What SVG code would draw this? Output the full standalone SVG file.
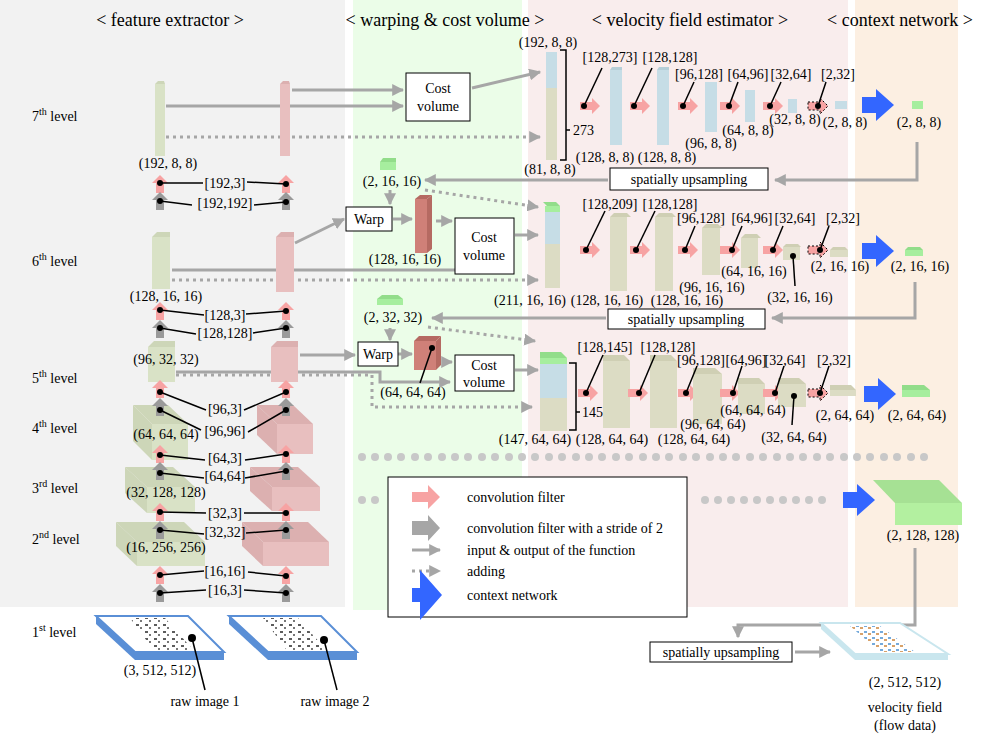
<svg xmlns="http://www.w3.org/2000/svg" width="1006" height="745" viewBox="0 0 1006 745" font-family="'Liberation Serif','DejaVu Serif',serif">
<defs>
<style>
text{font-family:"Liberation Serif","DejaVu Serif","Times New Roman",serif;font-size:14px;fill:#000}
.t{font-size:18px}
.m{text-anchor:middle}
.ln{stroke:#a6a6a6;stroke-width:3;fill:none}
.dt{stroke:#a6a6a6;stroke-width:3;fill:none;stroke-dasharray:3 4}
.ld{stroke:#000;stroke-width:1.5;fill:none}
.box{fill:#fff;stroke:#000;stroke-width:1}
.og{fill:#d9e2c6}.ogt{fill:#cdd6b8}
.pk{fill:#e8bfbf}.pkt{fill:#dcb0b0}
.bl{fill:#c6dde6}.blt{fill:#b5ced8}
.vo{fill:#dcdcc4}.vot{fill:#cfcfb4}
.rd{fill:#cf8078}.rdt{fill:#b56a62}
.gr{fill:#a6ee9e}.grt{fill:#92dd8a}
</style>
<pattern id="spk" width="9" height="7" patternUnits="userSpaceOnUse"><rect x="1" y="1" width="3" height="2" fill="#333"/><rect x="5" y="4" width="2" height="2" fill="#555"/></pattern>
<pattern id="vel" width="8" height="6" patternUnits="userSpaceOnUse"><rect x="0" y="1" width="3" height="2" fill="#3a85cc"/><rect x="4" y="3" width="3" height="2" fill="#c77a2a"/></pattern>
<marker id="ah" viewBox="0 0 10 10" refX="9" refY="5" markerWidth="4" markerHeight="4" orient="auto"><path d="M0,0L10,5L0,10z" fill="#a6a6a6"/></marker>
<path id="pr" d="M0,-4H12V-8L20,0L12,8V4H0Z" fill="#f7a3a3"/>
<path id="pu" d="M-4,8V-2H-8L0,-10L8,-2H4V8Z" fill="#f7a3a3"/>
<path id="gu" d="M-4,8V-2H-8L0,-10L8,-2H4V8Z" fill="#9a9a9a"/>
<path id="ctx" d="M0,-8H14V-16L32,0L14,16V8H0Z" fill="#3366ff"/>
<circle id="d" r="3" fill="#000"/>
</defs>
<rect width="1006" height="745" fill="#fff"/>
<g id="panels">
<rect x="0" y="0" width="345" height="607" fill="#f2f2f2"/>
<rect x="353" y="0" width="169" height="610" fill="#ebfde8"/>
<rect x="528" y="0" width="320" height="607" fill="#f9eded"/>
<rect x="855" y="0" width="103" height="607" fill="#fcefe2"/>
<text class="t m" x="170" y="26">&lt; feature extractor &gt;</text>
<text class="t m" x="445" y="26">&lt; warping &amp; cost volume &gt;</text>
<text class="t m" x="690" y="26">&lt; velocity field estimator &gt;</text>
<text class="t m" x="900" y="26">&lt; context network &gt;</text>
</g>
<g id="levels">
<text x="32" y="121" font-size="15">7<tspan font-size="10" dy="-6">th</tspan><tspan dy="6"> level</tspan></text>
<text x="32" y="266" font-size="15">6<tspan font-size="10" dy="-6">th</tspan><tspan dy="6"> level</tspan></text>
<text x="32" y="383" font-size="15">5<tspan font-size="10" dy="-6">th</tspan><tspan dy="6"> level</tspan></text>
<text x="32" y="433" font-size="15">4<tspan font-size="10" dy="-6">th</tspan><tspan dy="6"> level</tspan></text>
<text x="32" y="493" font-size="15">3<tspan font-size="10" dy="-6">rd</tspan><tspan dy="6"> level</tspan></text>
<text x="32" y="544" font-size="15">2<tspan font-size="10" dy="-6">nd</tspan><tspan dy="6"> level</tspan></text>
<text x="32" y="637" font-size="15">1<tspan font-size="10" dy="-6">st</tspan><tspan dy="6"> level</tspan></text>
</g>
<g id="connectors">
<line class="ln" x1="292" y1="90" x2="403" y2="90" marker-end="url(#ah)"/>
<line class="ln" x1="166" y1="106" x2="403" y2="106" marker-end="url(#ah)"/>
<line class="dt" x1="166" y1="137" x2="540" y2="137" marker-end="url(#ah)"/>
<line class="ln" x1="472" y1="88" x2="540" y2="72" marker-end="url(#ah)"/>
<polyline class="ln" points="917,142 917,180 775,180" marker-end="url(#ah)"/>
<line class="ln" x1="608" y1="180" x2="425" y2="180" marker-end="url(#ah)"/>
<line class="ln" x1="390" y1="190" x2="390" y2="204" marker-end="url(#ah)"/>
<line class="ln" x1="295" y1="243" x2="344" y2="219" marker-end="url(#ah)"/>
<line class="ln" x1="393" y1="219" x2="412" y2="219" marker-end="url(#ah)"/>
<line class="ln" x1="436" y1="221" x2="452" y2="221" marker-end="url(#ah)"/>
<line class="ln" x1="172" y1="270" x2="455" y2="270"/>
<line class="dt" x1="172" y1="280" x2="538" y2="280" marker-end="url(#ah)"/>
<line class="dt" x1="425" y1="190" x2="538" y2="207" marker-end="url(#ah)"/>
<line class="ln" x1="515" y1="235" x2="538" y2="235" marker-end="url(#ah)"/>
<polyline class="ln" points="915,282 915,318 772,318" marker-end="url(#ah)"/>
<line class="ln" x1="606" y1="318" x2="432" y2="318" marker-end="url(#ah)"/>
<line class="ln" x1="390" y1="328" x2="390" y2="340" marker-end="url(#ah)"/>
<line class="ln" x1="300" y1="355" x2="355" y2="355" marker-end="url(#ah)"/>
<line class="ln" x1="398" y1="354" x2="412" y2="354" marker-end="url(#ah)"/>
<line class="ln" x1="442" y1="362" x2="452" y2="362" marker-end="url(#ah)"/>
<polyline class="ln" points="176,372 380,372 380,382 450,382" marker-end="url(#ah)"/>
<polyline class="dt" points="176,375 372,375 372,407 532,407" marker-end="url(#ah)"/>
<line class="dt" x1="428" y1="327" x2="535" y2="341" marker-end="url(#ah)"/>
<line class="ln" x1="515" y1="370" x2="538" y2="370" marker-end="url(#ah)"/>
<polyline class="ln" points="915,548 915,625 738,625 738,637" marker-end="url(#ah)"/>
<line class="ln" x1="795" y1="652" x2="830" y2="652" marker-end="url(#ah)"/>
<g fill="#c8c8c8">
<circle cx="362" cy="457" r="4"/><circle cx="375" cy="457" r="4"/><circle cx="388" cy="457" r="4"/><circle cx="401" cy="457" r="4"/><circle cx="415" cy="457" r="4"/><circle cx="428" cy="457" r="4"/><circle cx="442" cy="457" r="4"/><circle cx="455" cy="457" r="4"/><circle cx="468" cy="457" r="4"/><circle cx="482" cy="457" r="4"/><circle cx="495" cy="457" r="4"/><circle cx="509" cy="457" r="4"/><circle cx="522" cy="457" r="4"/><circle cx="535" cy="457" r="4"/><circle cx="549" cy="457" r="4"/><circle cx="562" cy="457" r="4"/><circle cx="576" cy="457" r="4"/><circle cx="589" cy="457" r="4"/><circle cx="602" cy="457" r="4"/><circle cx="616" cy="457" r="4"/><circle cx="629" cy="457" r="4"/><circle cx="643" cy="457" r="4"/><circle cx="656" cy="457" r="4"/><circle cx="669" cy="457" r="4"/><circle cx="683" cy="457" r="4"/><circle cx="696" cy="457" r="4"/><circle cx="710" cy="457" r="4"/><circle cx="723" cy="457" r="4"/><circle cx="736" cy="457" r="4"/><circle cx="750" cy="457" r="4"/><circle cx="763" cy="457" r="4"/><circle cx="777" cy="457" r="4"/><circle cx="790" cy="457" r="4"/><circle cx="803" cy="457" r="4"/><circle cx="817" cy="457" r="4"/><circle cx="830" cy="457" r="4"/><circle cx="844" cy="457" r="4"/><circle cx="857" cy="457" r="4"/><circle cx="870" cy="457" r="4"/><circle cx="884" cy="457" r="4"/><circle cx="897" cy="457" r="4"/><circle cx="911" cy="457" r="4"/><circle cx="924" cy="457" r="4"/>
<circle cx="362" cy="500" r="4"/><circle cx="375" cy="500" r="4"/>
<circle cx="705" cy="500" r="4"/><circle cx="718" cy="500" r="4"/><circle cx="731" cy="500" r="4"/><circle cx="744" cy="500" r="4"/><circle cx="757" cy="500" r="4"/><circle cx="770" cy="500" r="4"/><circle cx="783" cy="500" r="4"/><circle cx="796" cy="500" r="4"/><circle cx="809" cy="500" r="4"/><circle cx="822" cy="500" r="4"/>
</g>
</g>
<g id="feature-extractor">
<path class="og" d="M155,84h10v72h-10z"/><path class="ogt" d="M155,84l3,-3h6l1,3z"/>
<path class="pk" d="M280,84h10v72h-10z"/><path class="pkt" d="M280,84l3,-3h6l1,3z"/>
<text class="m" x="168" y="168">(192, 8, 8)</text>
<path class="og" d="M152,237h18v52h-18z"/><path class="ogt" d="M152,237l5,-5h13l0,5z"/>
<path class="pk" d="M276,237h18v55h-18z"/><path class="pkt" d="M276,237l5,-5h13l0,5z"/>
<text class="m" x="166" y="301">(128, 16, 16)</text>
<path class="og" d="M148,347h27v35h-27z"/><path class="ogt" d="M148,347l6,-6h21v6z"/>
<path class="pk" d="M271,347h27v35h-27z"/><path class="pkt" d="M271,347l6,-6h21v6z"/>
<text class="m" x="166" y="364">(96, 32, 32)</text>
<path class="og" d="M152,424h36v36h-36z"/><path class="ogt" d="M133,405h35l20,19h-36z"/><path class="ogt" d="M133,405l19,19v36l-19,-19z"/>
<path class="pk" d="M277,424h36v30h-36z"/><path class="pkt" d="M257,405h36l20,19h-36z"/><path class="pkt" d="M257,405l20,19v30l-20,-19z"/>
<text class="m" x="166" y="439">(64, 64, 64)</text>
<path class="og" d="M147,487h48v26h-48z"/><path class="ogt" d="M125,467h48l22,20h-48z"/><path class="ogt" d="M125,467l22,20v26l-22,-20z"/>
<path class="pk" d="M272,487h48v24h-48z"/><path class="pkt" d="M250,467h48l22,20h-48z"/><path class="pkt" d="M250,467l22,20v24l-22,-20z"/>
<text class="m" x="166" y="497">(32, 128, 128)</text>
<path class="og" d="M137,542h68v24h-68z"/><path class="ogt" d="M116,522h68l21,20h-68z"/><path class="ogt" d="M116,522l21,20v24l-21,-20z"/>
<path class="pk" d="M263,542h66v24h-66z"/><path class="pkt" d="M242,522h66l21,20h-66z"/><path class="pkt" d="M242,522l21,20v24l-21,-20z"/>
<text class="m" x="166" y="552">(16, 256, 256)</text>
<use href="#pu" x="160" y="185"/><use href="#gu" x="160" y="202"/><use href="#pu" x="286" y="185"/><use href="#gu" x="286" y="202"/>
<use href="#pu" x="160" y="312"/><use href="#gu" x="160" y="330"/><use href="#pu" x="286" y="312"/><use href="#gu" x="286" y="330"/>
<use href="#pu" x="160" y="390"/><use href="#gu" x="160" y="408"/><use href="#pu" x="286" y="390"/><use href="#gu" x="286" y="408"/>
<use href="#pu" x="160" y="455"/><use href="#gu" x="160" y="472"/><use href="#pu" x="286" y="455"/><use href="#gu" x="286" y="472"/>
<use href="#pu" x="160" y="513"/><use href="#gu" x="160" y="531"/><use href="#pu" x="286" y="513"/><use href="#gu" x="286" y="531"/>
<use href="#pu" x="160" y="576"/><use href="#gu" x="160" y="594"/><use href="#pu" x="286" y="576"/><use href="#gu" x="286" y="594"/>
<g class="ld">
<polyline points="160,183 203,183"/><polyline points="247,182 286,184"/>
<polyline points="160,201 192,205"/><polyline points="254,205 286,202"/>
<polyline points="160,310 204,315"/><polyline points="246,314 286,311"/>
<polyline points="160,328 196,334"/><polyline points="253,333 286,328"/>
<polyline points="160,392 206,410"/><polyline points="244,410 286,392"/>
<polyline points="160,410 201,430"/><polyline points="248,432 286,410"/>
<polyline points="160,455 205,460"/><polyline points="245,460 286,454"/>
<polyline points="160,473 204,478"/><polyline points="245,478 286,471"/>
<polyline points="160,512 206,513"/><polyline points="244,513 286,513"/>
<polyline points="160,530 204,534"/><polyline points="246,533 286,530"/>
<polyline points="160,575 204,571"/><polyline points="248,572 286,576"/>
<polyline points="160,593 206,590"/><polyline points="244,590 286,593"/>
</g>
<g fill="#000"><use href="#d" x="160" y="183"/><use href="#d" x="286" y="184"/><use href="#d" x="160" y="201"/><use href="#d" x="286" y="202"/>
<use href="#d" x="160" y="310"/><use href="#d" x="286" y="311"/><use href="#d" x="160" y="328"/><use href="#d" x="286" y="328"/>
<use href="#d" x="160" y="392"/><use href="#d" x="286" y="392"/><use href="#d" x="160" y="410"/><use href="#d" x="286" y="410"/>
<use href="#d" x="160" y="455"/><use href="#d" x="286" y="454"/><use href="#d" x="160" y="473"/><use href="#d" x="286" y="471"/>
<use href="#d" x="160" y="512"/><use href="#d" x="286" y="513"/><use href="#d" x="160" y="530"/><use href="#d" x="286" y="530"/>
<use href="#d" x="160" y="575"/><use href="#d" x="286" y="576"/><use href="#d" x="160" y="593"/><use href="#d" x="286" y="593"/></g>
<text class="m" x="225" y="188">[192,3]</text><text class="m" x="225" y="208">[192,192]</text>
<text class="m" x="225" y="320">[128,3]</text><text class="m" x="225" y="338">[128,128]</text>
<text class="m" x="225" y="414">[96,3]</text><text class="m" x="225" y="436">[96,96]</text>
<text class="m" x="225" y="463">[64,3]</text><text class="m" x="225" y="481">[64,64]</text>
<text class="m" x="225" y="518">[32,3]</text><text class="m" x="225" y="537">[32,32]</text>
<text class="m" x="225" y="576">[16,16]</text><text class="m" x="225" y="595">[16,3]</text>
</g>
<g id="raw-images">
<path d="M96,616l39,36v8l-39,-36z" fill="#5a8fd6"/><path d="M135,652h89v8h-89z" fill="#5a8fd6"/>
<path d="M96,616h92l36,36h-89z" fill="#fff" stroke="#5a8fd6" stroke-width="2"/>
<path d="M130,618h35l30,34h-40z" fill="url(#spk)" opacity="0.8"/>
<path d="M229,616l39,36v8l-39,-36z" fill="#5a8fd6"/><path d="M268,652h89v8h-89z" fill="#5a8fd6"/>
<path d="M229,616h92l36,36h-89z" fill="#fff" stroke="#5a8fd6" stroke-width="2"/>
<path d="M263,618h35l30,34h-40z" fill="url(#spk)" opacity="0.8"/>
<text class="m" x="160" y="675">(3, 512, 512)</text>
<line class="ld" x1="192" y1="638" x2="205" y2="690"/><circle cx="192" cy="638" r="4"/>
<line class="ld" x1="324" y1="640" x2="337" y2="690"/><circle cx="324" cy="640" r="4"/>
<text class="m" x="205" y="706">raw image 1</text><text class="m" x="335" y="706">raw image 2</text>
</g>
<g id="warping">
<rect class="box" x="406" y="73" width="64" height="48"/><text class="m" x="438" y="93">Cost</text><text class="m" x="438" y="111">volume</text>
<path class="gr" d="M380,162h16v8h-16z"/><path class="grt" d="M380,162l3,-4h13l0,4z"/>
<text class="m" x="392" y="186">(2, 16, 16)</text>
<rect class="box" x="346" y="207" width="46" height="24"/><text class="m" x="369" y="224">Warp</text>
<path class="rd" d="M415,199h12v54h-12z"/><path class="rdt" d="M415,199l5,-4h12l-5,4z"/><path class="rdt" d="M427,199l5,-4v54l-5,4z"/>
<text class="m" x="405" y="264">(128, 16, 16)</text>
<rect class="box" x="455" y="218" width="59" height="56"/><text class="m" x="484" y="242">Cost</text><text class="m" x="484" y="260">volume</text>
<path class="gr" d="M377,299h26v6h-26z"/><path class="grt" d="M377,299l5,-4h16l5,4z"/>
<text class="m" x="393" y="322">(2, 32, 32)</text>
<rect class="box" x="358" y="342" width="40" height="24"/><text class="m" x="378" y="359">Warp</text>
<path class="rd" d="M414,341h22v29h-22z"/><path class="rdt" d="M414,341l5,-5h22l-5,5z"/><path class="rdt" d="M436,341l5,-5v29l-5,5z"/>
<line class="ld" x1="432" y1="348" x2="420" y2="383"/><use href="#d" x="432" y="348"/>
<text class="m" x="413" y="397">(64, 64, 64)</text>
<rect class="box" x="455" y="355" width="59" height="36"/><text class="m" x="484" y="370">Cost</text><text class="m" x="484" y="387">volume</text>
</g>
<g id="velocity-7">
<path class="bl" d="M546,52h11v36h-11z"/><path class="vo" d="M546,88h11v72h-11z"/>
<polyline class="ld" points="560,50 566,50 566,160 560,160"/><line class="ld" x1="566" y1="130" x2="570" y2="130"/>
<text x="573" y="135">273</text>
<text class="m" x="548" y="47">(192, 8, 8)</text><text class="m" x="550" y="174">(81, 8, 8)</text>
<use href="#pr" x="580" y="106"/><path class="bl" d="M610,70h12v75h-12z"/><path class="blt" d="M610,70l2,-3h10v3z"/>
<use href="#pr" x="630" y="106"/><path class="bl" d="M657,70h12v75h-12z"/><path class="blt" d="M657,70l2,-3h10v3z"/>
<use href="#pr" x="678" y="106"/><path class="bl" d="M705,82h12v50h-12z"/>
<use href="#pr" x="720" y="106"/><path class="bl" d="M745,90h10v32h-10z"/>
<use href="#pr" x="763" y="106"/><path class="bl" d="M788,99h9v14h-9z"/>
<use href="#pr" x="808" y="106" stroke="#000" stroke-dasharray="2 2"/><path class="bl" d="M835,101h12v8h-12z"/>
<use href="#ctx" x="862" y="105"/><path class="gr" d="M912,101h11v8h-11z"/>
<g class="ld"><line x1="584" y1="106" x2="602" y2="68"/><line x1="634" y1="106" x2="652" y2="68"/><line x1="683" y1="106" x2="694" y2="82"/><line x1="729" y1="106" x2="738" y2="82"/><line x1="770" y1="106" x2="781" y2="82"/><line x1="818" y1="106" x2="826" y2="82"/></g>
<use href="#d" x="584" y="106"/><use href="#d" x="634" y="106"/><use href="#d" x="683" y="106"/><use href="#d" x="729" y="106"/><use href="#d" x="770" y="106"/><use href="#d" x="818" y="106"/>
<text class="m" x="610" y="62">[128,273]</text><text class="m" x="670" y="62">[128,128]</text><text class="m" x="699" y="79">[96,128]</text><text class="m" x="748" y="79">[64,96]</text><text class="m" x="791" y="79">[32,64]</text><text class="m" x="838" y="79">[2,32]</text>
<text class="m" x="605" y="162">(128, 8, 8)</text><text class="m" x="667" y="162">(128, 8, 8)</text><text class="m" x="711" y="148">(96, 8, 8)</text><text class="m" x="748" y="135">(64, 8, 8)</text><text class="m" x="795" y="124">(32, 8, 8)</text><text class="m" x="845" y="127">(2, 8, 8)</text><text class="m" x="919" y="127">(2, 8, 8)</text>
<rect class="box" x="610" y="168" width="158" height="22"/><text class="m" x="689" y="184">spatially upsampling</text>
</g>
<g id="velocity-6">
<path class="gr" d="M545,206h15v6h-15z"/><path class="grt" d="M543,202l4,4h13l-4,-4z"/><path class="bl" d="M545,212h15v32h-15z"/><path class="vo" d="M545,244h15v44h-15z"/>
<text class="m" x="530" y="305">(211, 16, 16)</text>
<use href="#pr" x="580" y="250"/><path class="vo" d="M610,217h17v74h-17z"/><path class="vot" d="M610,217l4,-4h13l4,4z"/>
<use href="#pr" x="630" y="250"/><path class="vo" d="M655,217h18v74h-18z"/><path class="vot" d="M655,217l4,-4h13l4,4z"/>
<use href="#pr" x="678" y="250"/><path class="vo" d="M702,228h18v47h-18z"/><path class="vot" d="M702,228l4,-4h12l4,4z"/>
<use href="#pr" x="720" y="250"/><path class="vo" d="M741,238h17v30h-17z"/><path class="vot" d="M741,238l4,-4h12l4,4z"/>
<use href="#pr" x="763" y="250"/><path class="vo" d="M783,247h17v13h-17z"/><path class="vot" d="M783,247l3,-3h12l3,3z"/>
<use href="#pr" x="808" y="250" stroke="#000" stroke-dasharray="2 2"/><path class="vo" d="M830,250h18v7h-18z"/><path class="vot" d="M830,250l3,-3h12l3,3z"/>
<use href="#ctx" x="862" y="251"/><path class="gr" d="M905,250h18v6h-18z"/><path class="grt" d="M905,250l3,-3h12l3,3z"/>
<g class="ld"><line x1="586" y1="250" x2="605" y2="211"/><line x1="636" y1="250" x2="655" y2="211"/><line x1="685" y1="250" x2="695" y2="226"/><line x1="732" y1="250" x2="742" y2="226"/><line x1="773" y1="250" x2="783" y2="226"/><line x1="820" y1="250" x2="829" y2="226"/><line x1="793" y1="256" x2="795" y2="286"/></g>
<use href="#d" x="586" y="250"/><use href="#d" x="636" y="250"/><use href="#d" x="685" y="250"/><use href="#d" x="732" y="250"/><use href="#d" x="773" y="250"/><use href="#d" x="820" y="250"/><use href="#d" x="793" y="256"/>
<text class="m" x="610" y="209">[128,209]</text><text class="m" x="670" y="209">[128,128]</text><text class="m" x="701" y="223">[96,128]</text><text class="m" x="752" y="223">[64,96]</text><text class="m" x="795" y="223">[32,64]</text><text class="m" x="843" y="223">[2,32]</text>
<text class="m" x="607" y="305">(128, 16, 16)</text><text class="m" x="687" y="305">(128, 16, 16)</text><text class="m" x="712" y="292">(96, 16, 16)</text><text class="m" x="754" y="276">(64, 16, 16)</text><text class="m" x="800" y="302">(32, 16, 16)</text><text class="m" x="840" y="271">(2, 16, 16)</text><text class="m" x="920" y="271">(2, 16, 16)</text>
<rect class="box" x="608" y="309" width="157" height="20"/><text class="m" x="686" y="324">spatially upsampling</text>
</g>
<g id="velocity-5">
<path class="gr" d="M540,358h27v6h-27z"/><path class="grt" d="M540,358l0,-6h21l6,6z"/><path class="bl" d="M540,364h27v34h-27z"/><path class="vo" d="M540,398h27v33h-27z"/>
<polyline class="ld" points="569,363 576,363 576,430 569,430"/><line class="ld" x1="576" y1="412" x2="580" y2="412"/><text x="582" y="417">145</text>
<text class="m" x="535" y="444">(147, 64, 64)</text>
<use href="#pr" x="578" y="393"/><path class="vo" d="M603,361h27v67h-27z"/><path class="vot" d="M603,361l0,-6h21l6,6z"/>
<use href="#pr" x="628" y="393"/><path class="vo" d="M650,361h27v67h-27z"/><path class="vot" d="M650,361l0,-6h21l6,6z"/>
<use href="#pr" x="678" y="393"/><path class="vo" d="M693,374h29v50h-29z"/><path class="vot" d="M693,374l0,-6h22l7,6z"/>
<use href="#pr" x="720" y="393"/><path class="vo" d="M738,384h27v30h-27z"/><path class="vot" d="M738,384l0,-6h21l6,6z"/>
<use href="#pr" x="763" y="393"/><path class="vo" d="M778,384h28v23h-28z"/><path class="vot" d="M778,384l0,-6h21l7,6z"/>
<use href="#pr" x="808" y="393" stroke="#000" stroke-dasharray="2 2"/><path class="vo" d="M830,390h26v6h-26z"/><path class="vot" d="M830,390l0,-5h21l5,5z"/>
<use href="#ctx" x="864" y="394"/><path class="gr" d="M902,390h28v7h-28z"/><path class="grt" d="M902,390l0,-5h22l6,5z"/>
<g class="ld"><line x1="586" y1="393" x2="603" y2="355"/><line x1="639" y1="393" x2="655" y2="355"/><line x1="686" y1="393" x2="697" y2="366"/><line x1="733" y1="393" x2="742" y2="366"/><line x1="775" y1="393" x2="784" y2="366"/><line x1="820" y1="393" x2="829" y2="366"/><line x1="794" y1="396" x2="792" y2="425"/></g>
<use href="#d" x="586" y="393"/><use href="#d" x="639" y="393"/><use href="#d" x="686" y="393"/><use href="#d" x="733" y="393"/><use href="#d" x="775" y="393"/><use href="#d" x="820" y="393"/><use href="#d" x="794" y="396"/>
<text class="m" x="605" y="352">[128,145]</text><text class="m" x="668" y="352">[128,128]</text><text class="m" x="701" y="365">[96,128]</text><text class="m" x="746" y="365">[64,96]</text><text class="m" x="785" y="365">[32,64]</text><text class="m" x="834" y="365">[2,32]</text>
<text class="m" x="612" y="444">(128, 64, 64)</text><text class="m" x="694" y="444">(128, 64, 64)</text><text class="m" x="713" y="429">(96, 64, 64)</text><text class="m" x="753" y="415">(64, 64, 64)</text><text class="m" x="794" y="442">(32, 64, 64)</text><text class="m" x="845" y="420">(2, 64, 64)</text><text class="m" x="917" y="420">(2, 64, 64)</text>
</g>
<g id="final">
<use href="#ctx" x="843" y="500"/>
<path d="M895,503h67v22h-67z" fill="#b3f0a0"/><path d="M873,480h66l23,23h-67z" fill="#a6e194"/>
<text class="m" x="923" y="540">(2, 128, 128)</text>
<rect class="box" x="650" y="642" width="142" height="20"/><text class="m" x="721" y="657">spatially upsampling</text>
<path d="M821,623l34,31v6l-34,-31z" fill="#c9e6ee"/><path d="M855,654h93v6h-93z" fill="#c9e6ee"/>
<path d="M821,623h79l48,31h-93z" fill="#fff" stroke="#c9e6ee" stroke-width="2"/>
<path d="M850,626h30l35,26h-35z" fill="url(#vel)" opacity="0.7"/>
<text class="m" x="905" y="687">(2, 512, 512)</text>
<text class="m" x="905" y="712">velocity field</text><text class="m" x="905" y="730">(flow data)</text>
</g>
<g id="legend">
<rect class="box" x="388" y="477" width="299" height="140" stroke="#999"/>
<path d="M412,492h16v-7l12,12l-12,12v-7h-16z" fill="#f7a3a3"/>
<text x="467" y="502">convolution filter</text>
<path d="M412,521h16v-6l12,13l-12,13v-6h-16z" fill="#a6a6a6"/>
<text x="467" y="533">convolution filter with a stride of 2</text>
<line class="ln" x1="412" y1="550" x2="440" y2="550" marker-end="url(#ah)"/>
<text x="467" y="555">input &amp; output of the function</text>
<line class="dt" x1="412" y1="571" x2="440" y2="571" marker-end="url(#ah)"/>
<text x="467" y="576">adding</text>
<path d="M412,588h8v-18l22,25l-22,25v-18h-8z" fill="#3366ff"/>
<text x="467" y="600">context network</text>
</g>
</svg>
